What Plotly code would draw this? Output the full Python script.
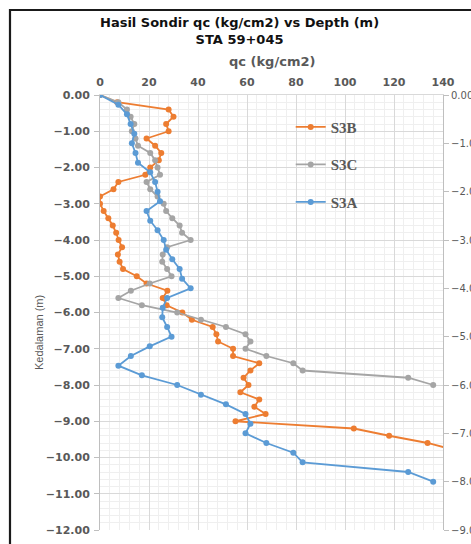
import plotly.graph_objects as go

# ---- data ----
depth_s3b = [0.0, -0.2, -0.4, -0.6, -0.8, -1.0, -1.2, -1.4, -1.6, -1.8,
             -2.0, -2.2, -2.4, -2.6, -2.8, -3.0, -3.2, -3.4, -3.6, -3.8,
             -4.0, -4.2, -4.4, -4.6, -4.8, -5.0, -5.2, -5.4, -5.6, -5.8,
             -6.0, -6.2, -6.4, -6.6, -6.8, -7.0, -7.2, -7.4, -7.6, -7.8,
             -8.0, -8.2, -8.4, -8.6, -8.8, -9.0, -9.2, -9.4, -9.6, -9.8]
qc_s3b = [0, 7, 28, 30, 27, 28, 19, 22.5, 25, 24,
          20.5, 18.5, 7.5, 5.5, 0, 0, 1.5, 3.4, 5.2, 6.6,
          7.6, 9, 7.3, 8, 9.4, 15, 19, 27.5, 25.6, 27.2,
          33.6, 37.5, 46, 47.5, 48.2, 54.3, 54.3, 65, 61.4, 58.6,
          60.6, 57.3, 65, 63, 67.6, 55.3, 103.6, 118, 133.7, 145]

depth_s3c = [0.0, -0.2, -0.4, -0.6, -0.8, -1.0, -1.2, -1.4, -1.6, -1.8,
             -2.0, -2.2, -2.4, -2.6, -2.8, -3.0, -3.2, -3.4, -3.6, -3.8,
             -4.0, -4.2, -4.4, -4.6, -4.8, -5.0, -5.2, -5.4, -5.6, -5.8,
             -6.0, -6.2, -6.4, -6.6, -6.8, -7.0, -7.2, -7.4, -7.6, -7.8, -8.0]
qc_s3c = [0, 7.5, 11, 12.5, 14, 13, 14.5, 15.5, 20.5, 22.5,
          23.5, 24.5, 19, 20.5, 23.5, 26, 27, 29.5, 32.5, 33.5,
          37, 27.4, 25.6, 25.4, 27.4, 29.2, 20.3, 12.6, 7.5, 17.1,
          31.5, 41.2, 51.4, 59.4, 61.4, 59.4, 67.9, 78.9, 82.7, 125.8, 136]

depth_s3a = [0.0, -0.2, -0.4, -0.6, -0.8, -1.0, -1.2, -1.4, -1.6, -1.8,
             -2.0, -2.2, -2.4, -2.6, -2.8, -3.0, -3.2, -3.4, -3.6, -3.8,
             -4.0, -4.2, -4.4, -4.6, -4.8, -5.0, -5.2, -5.4, -5.6, -5.8,
             -6.0, -6.2, -6.4, -6.6, -6.8, -7.0, -7.2, -7.4, -7.6, -7.8, -8.0]
qc_s3a = [0, 7.5, 11, 12.5, 14, 13, 14.5, 15.5, 20.5, 22.5,
          23.5, 24.5, 19, 20.5, 23.5, 26, 27, 29.5, 32.5, 33.5,
          37, 27.4, 25.6, 25.4, 27.4, 29.2, 20.3, 12.6, 7.5, 17.1,
          31.5, 41.2, 51.4, 59.4, 61.4, 59.4, 67.9, 78.9, 82.7, 125.8, 136]

x_ticks = [0, 20, 40, 60, 80, 100, 120, 140]

ORANGE = "#ED7D31"
GRAY = "#A5A5A5"
BLUE = "#5B9BD5"
TXT = "#595959"

fig = go.Figure()
fig.add_trace(go.Scatter(x=qc_s3b, y=depth_s3b, name="S3B", mode="lines+markers",
                         line=dict(color=ORANGE, width=1.8), marker=dict(size=6, color=ORANGE),
                         legendgroup="a", yaxis="y"))
fig.add_trace(go.Scatter(x=qc_s3c, y=depth_s3c, name="S3C", mode="lines+markers",
                         line=dict(color=GRAY, width=1.8), marker=dict(size=6, color=GRAY),
                         legendgroup="b", yaxis="y"))
fig.add_trace(go.Scatter(x=qc_s3a, y=depth_s3a, name="S3A", mode="lines+markers",
                         line=dict(color=BLUE, width=1.8), marker=dict(size=6, color=BLUE),
                         legendgroup="c", yaxis="y2"))

fig.update_layout(
    width=471, height=544,
    margin=dict(l=100, r=28, t=95, b=14, autoexpand=False),
    paper_bgcolor="white", plot_bgcolor="white",
    showlegend=True,
    legend=dict(x=0.556, y=0.964, xanchor="left", yanchor="top",
                traceorder="grouped", tracegroupgap=15,
                font=dict(family="Liberation Serif", size=15, color=TXT, weight="bold"),
                bgcolor="rgba(0,0,0,0)"),
    xaxis=dict(side="top", range=[0, 140], tickvals=x_ticks, showgrid=True,
               gridcolor="#d9d9d9", gridwidth=1, zeroline=False,
               minor=dict(dtick=4, showgrid=True, gridcolor="#efefef"),
               showline=True, linecolor="#d9d9d9", ticks="",
               ticklabelstandoff=4,
               tickfont=dict(family="DejaVu Sans", size=11, color=TXT, weight="bold")),
    yaxis=dict(range=[-12, 0], dtick=1, tickformat=".2f", showgrid=True,
               gridcolor="#d9d9d9", zeroline=False,
               minor=dict(dtick=0.2, showgrid=True, gridcolor="#efefef"),
               showline=True, linecolor="#bfbfbf", ticks="outside", ticklen=5,
               tickcolor="#bfbfbf", ticklabelstandoff=2,
               tickfont=dict(family="DejaVu Sans", size=11, color=TXT, weight="bold")),
    yaxis2=dict(range=[-9, 0], dtick=1, tickformat=".2f", overlaying="y", side="right",
                showgrid=False, zeroline=False, showline=True, linecolor="#bfbfbf",
                ticks="outside", ticklen=5, tickcolor="#bfbfbf",
                tickfont=dict(family="DejaVu Sans", size=10, color=TXT)),
)

# titles
fig.add_annotation(text="Hasil Sondir qc (kg/cm2) vs Depth (m)<br>STA 59+045",
                   xref="paper", yref="paper", x=0.408, y=1.146, xanchor="center", yanchor="middle",
                   showarrow=False, align="center",
                   font=dict(family="DejaVu Sans", size=13, color="#111111", weight="bold"))
fig.add_annotation(text="qc (kg/cm2)", xref="paper", yref="paper", x=0.5, y=1.078,
                   xanchor="center", yanchor="middle", showarrow=False,
                   font=dict(family="DejaVu Sans", size=13, color=TXT, weight="bold"))
fig.add_annotation(text="Kedalaman (m)", xref="paper", yref="paper", x=-0.178, y=0.455,
                   xanchor="center", yanchor="middle", showarrow=False, textangle=-90,
                   font=dict(family="Liberation Sans", size=11, color=TXT))

# outer chart frame (cut off on right and bottom like the screenshot)
fig.add_shape(type="rect", xref="paper", yref="paper",
              x0=-0.2624, x1=1.2, y0=-0.1, y1=1.1954,
              line=dict(color="#1a1a1a", width=2.2), fillcolor="rgba(0,0,0,0)", layer="above")

fig.write_html("out.html", config={"displayModeBar": False},
               post_script="document.body.style.margin='0px';document.body.style.overflow='hidden';")
